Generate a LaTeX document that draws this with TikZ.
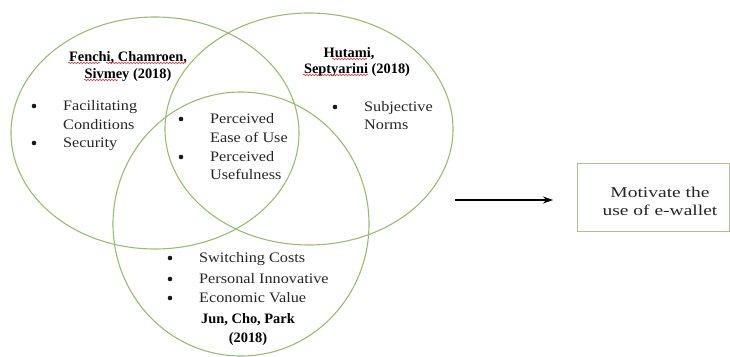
\documentclass[tikz,border=0pt]{standalone}
\usepackage{fontspec}
\setmainfont{Liberation Serif}
\newfontfamily\bodyf{Liberation Serif}[FakeStretch=1.12]
\newfontfamily\boxf{Liberation Serif}[FakeStretch=1.3]
\usetikzlibrary{arrows.meta,decorations.pathmorphing}
\definecolor{venngreen}{RGB}{150,190,110}
\definecolor{boxgreen}{RGB}{170,195,140}
\definecolor{spellred}{RGB}{220,60,60}
\tikzset{
  venn/.style={draw=venngreen, line width=1.1pt},
  itemtext/.style={anchor=base west, inner sep=0pt, font=\bodyf\fontsize{14.5}{17}\selectfont, text=black!85},
  bul/.style={circle, fill=black!90, inner sep=0pt, minimum size=4.6pt},
  headtext/.style={anchor=base, inner sep=0pt, font=\bfseries\fontsize{14.4}{17}\selectfont},
  boxtext/.style={anchor=base, inner sep=0pt, font=\boxf\fontsize{15}{18}\selectfont, text=black!85},
  spell/.style={draw=spellred, line width=0.6pt, decorate, decoration={snake, amplitude=0.8pt, segment length=3pt}}
}
\begin{document}
\begin{tikzpicture}[x=1pt,y=-1pt]
\useasboundingbox (0,0) rectangle (730,356);
% Venn ellipses
\draw[venn] (155,133) ellipse [x radius=144pt, y radius=116pt];
\draw[venn] (309,129) ellipse [x radius=144pt, y radius=116pt];
\draw[venn] (241,224) ellipse [x radius=128pt, y radius=132pt];

% headings
\node[headtext] (h1a) at (128,61) {Fenchi, Chamroen,};
\node[headtext] (h1b) at (128,78) {Sivmey (2018)};
\node[headtext] (h2a) at (349,57) {Hutami,};
\node[headtext] (h2b) at (357,73) {Septyarini (2018)};
\node[headtext] (h3a) at (248,323) {Jun, Cho, Park};
\node[headtext] (h3b) at (248,342) {(2018)};

% spell-check underlines
\draw[spell] (68,63) -- (100,63);
\draw[spell] (106,63) -- (186,63);
\draw[spell] (84,80) -- (118,80);
\draw[spell] (332,59) -- (367,59);
\draw[spell] (303,75) -- (368,75);

% left list
\node[bul] (b1) at (34,106) {};
\node[itemtext] (t1) at (63,110) {Facilitating};
\node[itemtext] (t2) at (63,129) {Conditions};
\node[bul] (b2) at (34,143) {};
\node[itemtext] (t3) at (63,147) {Security};

% middle list
\node[bul] (b3) at (181,119) {};
\node[itemtext] (t4) at (210,123) {Perceived};
\node[itemtext] (t5) at (210,142) {Ease of Use};
\node[bul] (b4) at (181,157) {};
\node[itemtext] (t6) at (210,161) {Perceived};
\node[itemtext] (t7) at (210,179) {Usefulness};

% right list
\node[bul] (b5) at (335,107) {};
\node[itemtext] (t8) at (364,111) {Subjective};
\node[itemtext] (t9) at (364,129) {Norms};

% bottom list
\node[bul] (b6) at (170,258) {};
\node[itemtext] (t10) at (199,262) {Switching Costs};
\node[bul] (b7) at (170,279) {};
\node[itemtext] (t11) at (199,283) {Personal Innovative};
\node[bul] (b8) at (170,298) {};
\node[itemtext] (t12) at (199,302) {Economic Value};

% result box
\node[draw=boxgreen, line width=0.9pt, minimum width=152pt, minimum height=68pt, inner sep=0pt] (res) at (653,197) {};
\node[boxtext] (r1) at (660,197) {Motivate the};
\node[boxtext] (r2) at (660,215) {use of e-wallet};

% arrow
\coordinate (as) at (455,200);
\coordinate (ae) at (553,200);
\draw[line width=1.2pt, -{Stealth[length=10pt,width=7pt]}] (as) -- (ae);
\end{tikzpicture}
\end{document}
